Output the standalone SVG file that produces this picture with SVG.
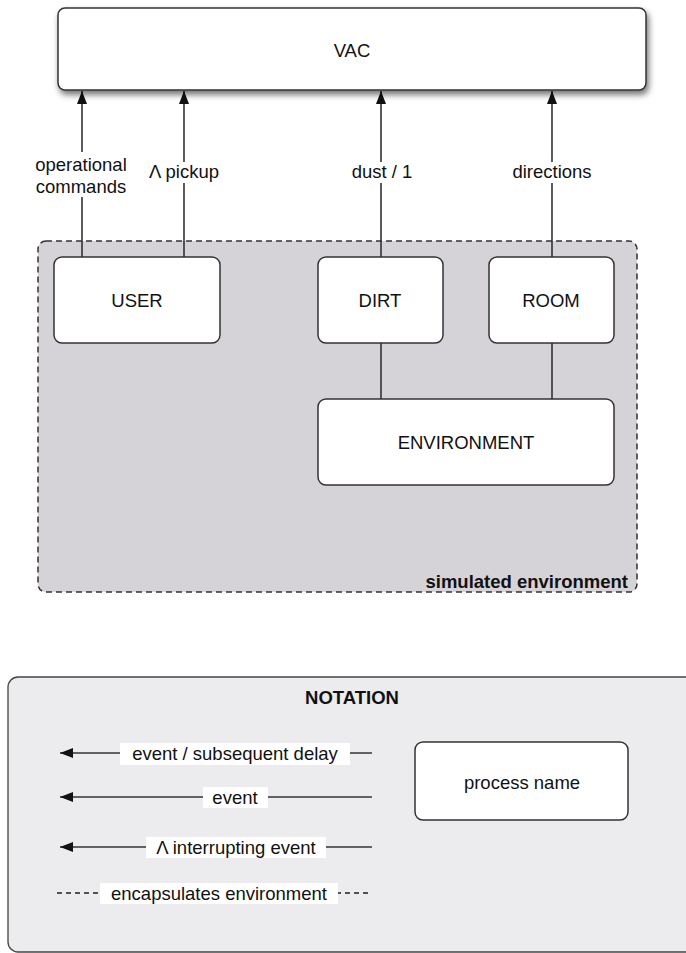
<svg xmlns="http://www.w3.org/2000/svg" width="686" height="953" viewBox="0 0 686 953">
  <style>
    text { font-family: "Liberation Sans", Arial, Helvetica, sans-serif; font-size: 18.5px; fill: #111; }
    .c { text-anchor: middle; }
    .b { font-weight: bold; }
    .box { fill: #fff; stroke: #333; stroke-width: 1.5; }
    .wire { stroke: #333; stroke-width: 1.6; fill: none; }
    .bg { fill: #fff; }
  </style>
  <defs>
    <filter id="shadow" x="-10%" y="-30%" width="120%" height="170%">
      <feDropShadow dx="2" dy="4" stdDeviation="3" flood-color="#000" flood-opacity="0.55"/>
    </filter>
    <marker id="arrow" markerUnits="userSpaceOnUse" markerWidth="15" markerHeight="12" refX="13" refY="5" orient="auto">
      <path d="M0,0 L13,5 L0,10 Z" fill="#111"/>
    </marker>
  </defs>

  <!-- simulated environment container -->
  <g id="simulated-environment">
    <rect x="38" y="241" width="599" height="351" rx="8" fill="#d5d3d7" stroke="#333" stroke-width="1.5" stroke-dasharray="6,4"/>
    <text x="628" y="588" class="b" text-anchor="end">simulated environment</text>
  </g>

  <!-- connectors -->
  <g id="connectors">
    <line class="wire" x1="82" y1="257" x2="82" y2="91" marker-end="url(#arrow)"/>
    <line class="wire" x1="184" y1="257" x2="184" y2="91" marker-end="url(#arrow)"/>
    <line class="wire" x1="381" y1="257" x2="381" y2="91" marker-end="url(#arrow)"/>
    <line class="wire" x1="552" y1="257" x2="552" y2="91" marker-end="url(#arrow)"/>
    <line class="wire" x1="381" y1="343" x2="381" y2="399"/>
    <line class="wire" x1="552" y1="343" x2="552" y2="399"/>

    <rect class="bg" x="33" y="152" width="98" height="45"/>
    <text x="81" y="171" class="c">operational</text>
    <text x="81" y="193" class="c">commands</text>

    <rect class="bg" x="146" y="162" width="76" height="21"/>
    <text x="184" y="178" class="c">Λ pickup</text>

    <rect class="bg" x="350" y="162" width="64" height="21"/>
    <text x="382" y="178" class="c">dust / 1</text>

    <rect class="bg" x="510" y="162" width="86" height="21"/>
    <text x="552" y="178" class="c">directions</text>
  </g>

  <g id="vac">
    <rect class="box" x="58" y="8" width="588" height="82" rx="7" filter="url(#shadow)"/>
    <text x="352" y="57" class="c">VAC</text>
  </g>

  <g id="user">
    <rect class="box" x="54" y="257" width="166" height="86" rx="8"/>
    <text x="137" y="307" class="c">USER</text>
  </g>

  <g id="dirt">
    <rect class="box" x="318" y="257" width="125" height="86" rx="8"/>
    <text x="380" y="307" class="c">DIRT</text>
  </g>

  <g id="room">
    <rect class="box" x="489" y="257" width="125" height="86" rx="8"/>
    <text x="551" y="307" class="c">ROOM</text>
  </g>

  <g id="environment">
    <rect class="box" x="318" y="399" width="296" height="86" rx="8"/>
    <text x="466" y="449" class="c">ENVIRONMENT</text>
  </g>

  <!-- legend -->
  <g id="notation">
    <rect x="8" y="677" width="700" height="275" rx="10" fill="#ecebee" stroke="#444" stroke-width="1.3"/>
    <text x="352" y="704" class="c b">NOTATION</text>

    <line class="wire" x1="372" y1="753" x2="60" y2="753" marker-end="url(#arrow)"/>
    <rect class="bg" x="120" y="743" width="230" height="22"/>
    <text x="235" y="760" class="c">event / subsequent delay</text>

    <line class="wire" x1="372" y1="797" x2="60" y2="797" marker-end="url(#arrow)"/>
    <rect class="bg" x="203" y="787" width="65" height="21"/>
    <text x="235" y="804" class="c">event</text>

    <line class="wire" x1="372" y1="847" x2="60" y2="847" marker-end="url(#arrow)"/>
    <rect class="bg" x="146" y="837" width="180" height="21"/>
    <text x="236" y="854" class="c">Λ interrupting event</text>

    <line x1="57" y1="893" x2="369" y2="893" stroke="#222" stroke-width="1.5" stroke-dasharray="5,4"/>
    <rect class="bg" x="100" y="883" width="238" height="21"/>
    <text x="219" y="900" class="c">encapsulates environment</text>

    <g id="process-name">
      <rect class="box" x="415" y="742" width="213" height="78" rx="8"/>
      <text x="522" y="789" class="c">process name</text>
    </g>
  </g>
</svg>
